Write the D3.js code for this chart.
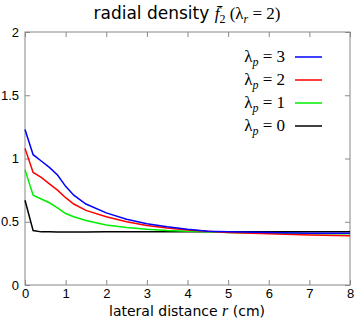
<!DOCTYPE html>
<meta charset="utf-8">
<style>
body { margin: 0; background: #fff; }
.tick text { font-family: "Liberation Sans", Arial, sans-serif; font-size: 13px; fill: #000; }
.math { font-family: "Liberation Serif", "DejaVu Serif", serif; }
</style>
<div id="chart"></div>
<script src="https://d3js.org/d3.v7.min.js"></script>
<script>

var rValues = [0, 0.2, 0.4, 0.6, 0.8, 1.0, 1.2, 1.5, 2, 2.5, 3, 3.5, 4, 4.5, 5, 6, 7, 8];
var lambda3 = [1.23, 1.03, 0.98, 0.93, 0.87, 0.78, 0.71, 0.64, 0.57, 0.52, 0.485, 0.46, 0.44, 0.425, 0.42, 0.415, 0.41, 0.41];
var lambda2 = [1.08, 0.89, 0.85, 0.80, 0.75, 0.69, 0.64, 0.59, 0.54, 0.50, 0.47, 0.45, 0.435, 0.425, 0.415, 0.405, 0.395, 0.39];
var lambda1 = [0.91, 0.71, 0.68, 0.65, 0.61, 0.565, 0.54, 0.51, 0.475, 0.455, 0.44, 0.43, 0.425, 0.42, 0.415, 0.41, 0.405, 0.405];
var lambda0 = [0.67, 0.43, 0.42, 0.42, 0.418, 0.418, 0.418, 0.418, 0.42, 0.42, 0.42, 0.42, 0.42, 0.42, 0.42, 0.42, 0.42, 0.42];

var seriesNames = ["3", "2", "1", "0"];
var seriesColors = ["#0000ff", "#ff0000", "#00ee00", "#000000"];
var seriesData = [lambda3, lambda2, lambda1, lambda0];

var xTicks = [0, 1, 2, 3, 4, 5, 6, 7, 8];
var yTicks = [0, 0.5, 1, 1.5, 2];
var yTickLabels = ["0", "0.5", "1", "1.5", "2"];

var width = 354, height = 322;
var margin = {left: 25, right: 4, top: 32, bottom: 37};

var svg = d3.select("#chart").append("svg")
    .attr("width", width)
    .attr("height", height);

var x = d3.scaleLinear().domain([0, 8]).range([margin.left, width - margin.right]);
var y = d3.scaleLinear().domain([0, 2]).range([height - margin.bottom, margin.top]);

// ticks on all four sides, pointing inward
function styleAxis(g) {
  g.select(".domain").remove();
  g.selectAll(".tick line").attr("stroke", "#888");
}

svg.append("g")
    .attr("transform", "translate(0," + y(0) + ")")
    .call(d3.axisBottom(x).tickValues(xTicks).tickSize(-5).tickPadding(4).tickFormat(d3.format("d")))
    .call(styleAxis);

svg.append("g")
    .attr("transform", "translate(0," + y(2) + ")")
    .call(d3.axisTop(x).tickValues(xTicks).tickSize(-5).tickFormat(""))
    .call(styleAxis);

svg.append("g")
    .attr("transform", "translate(" + x(0) + ",0)")
    .call(d3.axisLeft(y).tickValues(yTicks).tickSize(-5).tickPadding(6)
      .tickFormat(function(d, i) { return yTickLabels[i]; }))
    .call(styleAxis);

svg.append("g")
    .attr("transform", "translate(" + x(8) + ",0)")
    .call(d3.axisRight(y).tickValues(yTicks).tickSize(-5).tickFormat(""))
    .call(styleAxis);

svg.append("rect")
    .attr("x", x(0)).attr("y", y(2))
    .attr("width", x(8) - x(0)).attr("height", y(0) - y(2))
    .attr("fill", "none").attr("stroke", "#888").attr("stroke-width", 1);

var line = d3.line()
    .x(function(d, i) { return x(rValues[i]); })
    .y(function(d) { return y(d); });

// draw black first so colored lines sit on top like the original
[3, 2, 1, 0].forEach(function(k) {
  svg.append("path")
      .datum(seriesData[k])
      .attr("d", line)
      .attr("fill", "none")
      .attr("stroke", seriesColors[k])
      .attr("stroke-width", 1.5);
});

// legend
var legend = svg.append("g");
seriesNames.forEach(function(name, i) {
  var ly = 57 + i * 23;
  var t = legend.append("text")
      .attr("class", "math")
      .attr("x", 285).attr("y", ly + 5)
      .attr("text-anchor", "end")
      .attr("font-size", 17);
  t.append("tspan").text("λ");
  t.append("tspan").attr("font-size", 12).attr("font-style", "italic").attr("dy", 4).text("p");
  t.append("tspan").attr("dy", -4).text(" = " + name);
  legend.append("line")
      .attr("x1", 295).attr("x2", 322)
      .attr("y1", ly).attr("y2", ly)
      .attr("stroke", seriesColors[i])
      .attr("stroke-width", 1.5);
});

// title
var title = svg.append("text")
    .attr("x", 187).attr("y", 19)
    .attr("text-anchor", "middle")
    .attr("font-family", "DejaVu Sans, sans-serif")
    .attr("font-size", 17)
    .attr("fill", "#000");
title.append("tspan").text("radial density ");
title.append("tspan").attr("class", "math").attr("font-style", "italic").text("f\u0304");
title.append("tspan").attr("class", "math").attr("font-size", 12).attr("dy", 4).text("2");
title.append("tspan").attr("class", "math").attr("dy", -4).text(" (λ");
title.append("tspan").attr("class", "math").attr("font-style", "italic").attr("font-size", 12).attr("dy", 4).text("r");
title.append("tspan").attr("class", "math").attr("dy", -4).text(" = 2)");

// x axis label
var xl = svg.append("text")
    .attr("x", 187).attr("y", 316)
    .attr("text-anchor", "middle")
    .attr("font-family", "DejaVu Sans, sans-serif")
    .attr("font-size", 14);
xl.append("tspan").text("lateral distance ");
xl.append("tspan").attr("class", "math").attr("font-style", "italic").attr("font-size", 16).text("r");
xl.append("tspan").text(" (cm)");

</script>
